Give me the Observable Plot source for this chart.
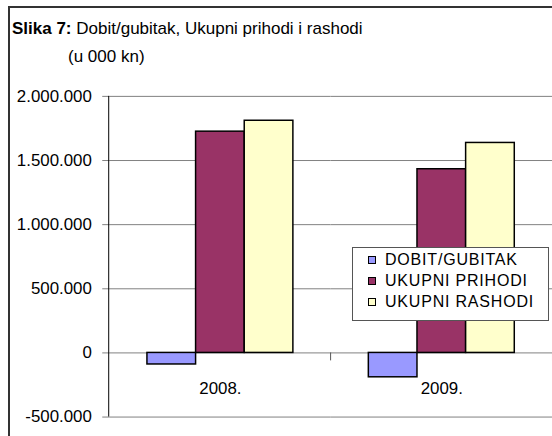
<!DOCTYPE html>
<html><head><meta charset="utf-8">
<script src="https://cdn.jsdelivr.net/npm/d3@7"></script>
<script src="https://cdn.jsdelivr.net/npm/@observablehq/plot@0.6"></script>
<style>
html,body{margin:0;padding:0;width:552px;height:436px;overflow:hidden;background:#fff;font-family:"Liberation Sans",Arial,sans-serif;color:#000;}
#frame{position:absolute;left:8px;top:6px;width:600px;height:500px;border-left:2px solid #333;border-top:2px solid #333;box-sizing:border-box;}
#title{position:absolute;left:12px;top:19px;font-size:17px;line-height:20px;white-space:nowrap;}
#sub{position:absolute;left:68px;top:47px;font-size:17px;line-height:20px;white-space:nowrap;}
#chart{position:absolute;left:0;top:80px;}
#legend{position:absolute;left:352px;top:247px;width:197px;height:74px;border:1px solid #555;background:#fff;box-sizing:border-box;padding-top:1px;}
.item{display:flex;align-items:center;height:21px;padding-left:15px;font-size:16px;letter-spacing:0.8px;white-space:nowrap;}
.sw{width:8px;height:8px;border:1px solid #000;box-sizing:border-box;margin-right:9px;flex:none;}
</style></head>
<body>
<div id="frame"></div>
<div id="title"><b>Slika 7:</b> Dobit/gubitak, Ukupni prihodi i rashodi</div>
<div id="sub">(u 000 kn)</div>
<div id="chart"></div>
<div id="legend"></div>
<script>
const years = ["2008.", "2009."];
const series = ["DOBIT/GUBITAK", "UKUPNI PRIHODI", "UKUPNI RASHODI"];
const dobitGubitak = [-90000, -190000];
const ukupniPrihodi = [1725000, 1432000];
const ukupniRashodi = [1810000, 1637000];
const colors = ["#9999FF", "#993366", "#FFFFCC"];
const yTicks = [-500000, 0, 500000, 1000000, 1500000, 2000000];

const seriesValues = [dobitGubitak, ukupniPrihodi, ukupniRashodi];
const rows = years.flatMap((yr, i) => series.map((s, j) => ({year: yr, series: s, value: seriesValues[j][i]})));

const fmt = d3.formatLocale({decimal: ",", thousands: ".", grouping: [3], currency: ["", ""], minus: "-"}).format(",d");

const plot = Plot.plot({
  width: 556, height: 356,
  marginLeft: 109, marginRight: 0, marginTop: 16, marginBottom: 17,
  style: {fontFamily: "'Liberation Sans', Arial, sans-serif", fontSize: "17px", color: "#000", background: "transparent", overflow: "visible"},
  fx: {domain: years, padding: 0, axis: null, label: null},
  x: {domain: series, paddingInner: 0, paddingOuter: 0.753, axis: null, label: null},
  y: {domain: [-500000, 2000000], axis: null, label: null},
  color: {domain: series, range: colors},
  marks: [
    Plot.gridY(yTicks, {stroke: "#808080", strokeOpacity: 1}),
    Plot.axisY(yTicks, {tickFormat: fmt, tickSize: 7, tickPadding: 11, stroke: "#808080", fill: "#000", fontSize: 17, label: null}),
    Plot.barY(rows, {fx: "year", x: "series", y: "value", fill: "series", stroke: "#000", strokeWidth: 1.5}),
    Plot.text(years, {fx: d => d, y: 0, text: d => d, dy: 29, lineAnchor: "top", fontSize: 17, fill: "#000"})
  ]
});
document.getElementById("chart").appendChild(plot);

// y-axis line and category separator ticks, derived from the plot's scales
const svg = d3.select(plot.tagName.toLowerCase() === "svg" ? plot : plot.querySelector("svg"));
const yS = plot.scale("y"), fxS = plot.scale("fx");
const ys = d3.scaleLinear(yS.domain, yS.range);
const x0 = fxS.range[0];
const step = (fxS.range[1] - fxS.range[0]) / fxS.domain.length;
svg.append("line").attr("x1", x0 + 0.5).attr("x2", x0 + 0.5)
  .attr("y1", ys(yS.domain[1])).attr("y2", ys(yS.domain[0])).attr("stroke", "#000");
for (let i = 1; i <= fxS.domain.length; i++) {
  svg.append("line").attr("x1", x0 + i * step + 0.5).attr("x2", x0 + i * step + 0.5)
    .attr("y1", ys(0)).attr("y2", ys(0) + 8).attr("stroke", "#555");
}

// legend
const lg = d3.select("#legend");
series.forEach((s, i) => {
  const it = lg.append("div").attr("class", "item");
  it.append("div").attr("class", "sw").style("background", colors[i]);
  it.append("span").text(s);
});
</script>
</body></html>
